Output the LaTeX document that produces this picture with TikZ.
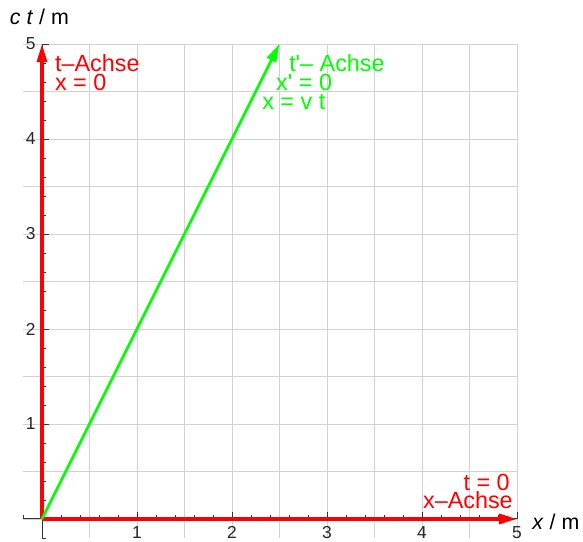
\documentclass[tikz,border=0pt]{standalone}
\usepackage{fontspec}
\setmainfont{Liberation Sans}
\usepackage{xcolor}
\usetikzlibrary{arrows.meta, positioning}

\begin{document}
\begin{tikzpicture}[x=2.5cm, y=2.5cm,
  axislabel/.style={font=\fontsize{16}{18}\selectfont, inner sep=0pt},
  ticklabel/.style={font=\fontsize{13}{15}\selectfont, text=black!85, inner sep=0pt},
  redlabel/.style={font=\fontsize{17.5}{19}\selectfont, text=red, inner sep=0pt, text height=0.72em, text depth=0pt},
  greenlabel/.style={font=\fontsize{17.5}{19}\selectfont, text=green, inner sep=0pt, text height=0.72em, text depth=0pt},
  axisline/.style={draw=red, line width=2.4pt, -{Triangle[length=13.5pt, width=7.5pt]}},
  worldline/.style={draw=green, line width=2pt, -{Triangle[length=13.5pt, width=7.5pt]}},
]
  \useasboundingbox (-0.442,-0.232) rectangle (5.695,5.463);

  % Grid
  \draw[gray!35, line width=0.6pt] (-0.2,-0.2) grid[step=0.5] (5,5);

  % Axes with ticks
  \draw[black!80, line width=0.7pt] (-0.2,0) -- (5,0);
  \draw[black!80, line width=0.7pt] (0,-0.2) -- (0,5);
  \foreach \i in {-0.2,0.2,0.4,...,4.81} {
    \draw[black!80, line width=0.6pt] (\i,0) -- ++(0,0.04);
    \draw[black!80, line width=0.6pt] (0,\i) -- ++(0.04,0);
  }
  \foreach \i in {1,...,5} {
    \draw[black!80, line width=0.6pt] (\i,0) -- ++(0,0.075);
    \draw[black!80, line width=0.6pt] (0,\i) -- ++(0.075,0);
    \node[ticklabel, anchor=north] (xt\i) at (\i,-0.08) {\i};
    \node[ticklabel, anchor=east] (yt\i) at (-0.065,\i) {\i};
  }
  \node[axislabel, anchor=west] (xlab) at (5.16,-0.03) {\textit{x} / m};
  \node[axislabel, anchor=west] (ylab) at (-0.34,5.285) {\textit{c} \textit{t} / m};

  % Lines
  \coordinate (O) at (0,0);
  \coordinate (tTip) at (0,5);
  \coordinate (xTip) at (5,0);
  \coordinate (gTip) at (2.5,5);
  \draw[axisline] (O) -- (tTip);
  \draw[axisline] (O) -- (xTip);
  \draw[worldline] (O) -- (gTip);

  % Labels
  \node[redlabel, anchor=west] (tAchse) at (0.135,4.76) {t–Achse};
  \node[redlabel, anchor=west] (xnull) at (0.135,4.56) {x = 0};
  \node[greenlabel, anchor=west] (tsAchse) at (2.60,4.76) {t\textquotesingle– Achse};
  \node[greenlabel, anchor=west] (xsnull) at (2.463,4.56) {x\textquotesingle\ = 0};
  \node[greenlabel, anchor=west] (xvt) at (2.316,4.36) {x = v t};
  \node[redlabel, anchor=east] (tnull) at (4.926,0.345) {t = 0};
  \node[redlabel, anchor=east] (xAchse) at (4.958,0.165) {x–Achse};
\end{tikzpicture}
\end{document}
